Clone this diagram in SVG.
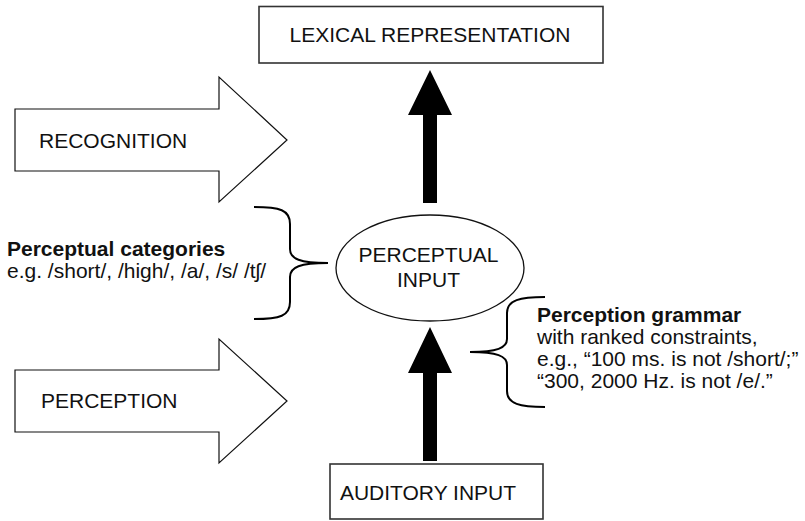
<svg xmlns="http://www.w3.org/2000/svg" width="805" height="521" viewBox="0 0 805 521">
<style>
  .t { font-family: "Liberation Sans", Arial, Helvetica, sans-serif; font-size: 21px; fill: #111; }
  .b { font-weight: bold; }
  .box { fill: #fff; stroke: #333; stroke-width: 1.6; }
  .blk { fill: #fff; stroke: #111; stroke-width: 1.2; }
  .brace { fill: none; stroke: #000; stroke-width: 2; }
  .up { fill: #000; stroke: none; }
</style>
<rect width="805" height="521" fill="#fff"/>

<g id="lexical-representation">
  <rect class="box" x="259" y="6.5" width="344" height="56.5"/>
  <text class="t" x="430" y="42" text-anchor="middle">LEXICAL REPRESENTATION</text>
</g>

<g id="recognition">
  <polygon class="blk" points="15,109 219,109 219,77 287,140 219,202 219,171 15,171"/>
  <text class="t" x="39" y="148">RECOGNITION</text>
</g>

<g id="perception">
  <polygon class="blk" points="15,370 219,370 219,339 287,401 219,463 219,432 15,432"/>
  <text class="t" x="41" y="408">PERCEPTION</text>
</g>

<g id="perceptual-input">
  <ellipse cx="430" cy="268" rx="94" ry="53" fill="#fff" stroke="#111" stroke-width="1.3"/>
  <text class="t" x="428.5" y="262" text-anchor="middle">PERCEPTUAL</text>
  <text class="t" x="428.5" y="287" text-anchor="middle">INPUT</text>
</g>

<g id="auditory-input">
  <rect class="box" x="330" y="464" width="213" height="55"/>
  <text class="t" x="428" y="500" text-anchor="middle">AUDITORY INPUT</text>
</g>

<g id="perceptual-categories">
  <text class="t b" x="7" y="256">Perceptual categories</text>
  <text class="t" x="7" y="278">e.g. /short/, /high/, /a/, /s/ /tʃ/</text>
</g>

<g id="perception-grammar">
  <text class="t b" x="537" y="322">Perception grammar</text>
  <text class="t" x="537" y="344">with ranked constraints,</text>
  <text class="t" x="537" y="366">e.g., “100 ms. is not /short/;”</text>
  <text class="t" x="537" y="388">“300, 2000 Hz. is not /e/.”</text>
</g>

<g id="connectors">
  <polygon class="up" points="430,70 452,115 437,115 437,203 423,203 423,115 408,115"/>
  <polygon class="up" points="430,327 452,373 437,373 437,461 423,461 423,373 408,373"/>
  <path class="brace" d="M254,207 C280,207 290,210 290,224 L290,249 C290,259 300,263 328,263 C300,263 290,267 290,277 L290,302 C290,316 280,319 254,319"/>
  <path class="brace" d="M545,297 C520,297 507,300 507,313 L507,339 C507,348 497,352 470,352 C497,352 507,356 507,365 L507,391 C507,404 520,407 545,407"/>
</g>
</svg>
